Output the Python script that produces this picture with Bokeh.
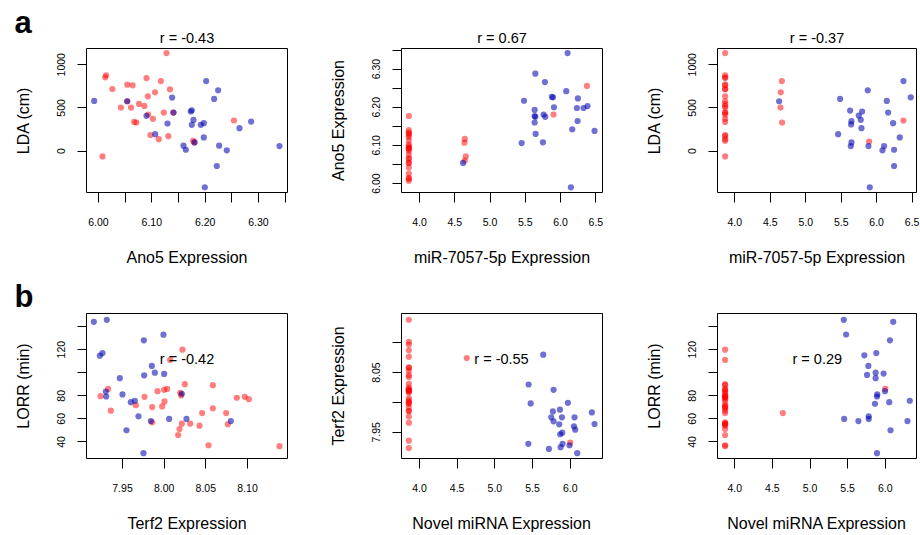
from bokeh.plotting import figure
from bokeh.layouts import column, row
from bokeh.models import Range1d, FixedTicker, PrintfTickFormatter, Title
from bokeh.core.properties import value
from bokeh.embed import file_html
from bokeh.resources import INLINE

FONT = "Liberation Sans"
RED = "#FF0000"
BLUE = "#0000B0"

# ---------------- panel a1: Ano5 vs LDA ----------------
a1_red_x = [6.1275, 6.0144, 6.0125, 6.026, 6.054, 6.064, 6.090, 6.117, 6.134, 6.106, 6.0925, 6.042, 6.061,
            6.076, 6.086, 6.093, 6.102, 6.1225, 6.067, 6.071, 6.0975, 6.113, 6.131, 6.1775, 6.254, 6.0075,
            6.054, 6.1406, 6.180]
a1_red_y = [1135, 877, 854, 719, 769, 761, 846, 811, 715, 681, 634, 504, 504,
            546, 523, 423, 373, 446, 338, 331, 185, 138, 173, 119, 354, -62,
            577, 446, 100]
a1_blue_x = [5.9919, 6.0538, 6.090, 6.1063, 6.1294, 6.1381, 6.1406, 6.1731, 6.175, 6.1781, 6.175, 6.1919,
             6.1975, 6.2019, 6.2169, 6.2244, 6.1975, 6.1594, 6.1638, 6.180, 6.2263, 6.2219, 6.2406, 6.1994,
             6.2644, 6.2863, 6.3394]
a1_blue_y = [581, 577, 408, 196, 319, 619, 446, 458, 473, 361, 304, 304,
             323, 811, 604, 704, 158, 62, 15, 100, 62, -173, 8, -419,
             265, 342, 58]

# ---------------- panel a2: miR-7057-5p vs Ano5 ----------------
a2_red_x = [3.849, 3.849, 3.849, 3.849, 3.849, 3.849, 3.849, 3.849, 3.849, 3.849, 3.849, 3.849,
            3.849, 3.849, 3.849, 3.849, 3.849, 3.849, 3.849, 3.849, 3.849, 3.849, 3.849,
            4.642, 4.637, 4.656, 4.642, 5.900, 6.373]
a2_red_y = [6.1275, 6.015, 6.0125, 6.026, 6.054, 6.064, 6.090, 6.134, 6.093, 6.042, 6.076, 6.086,
            6.093, 6.102, 6.1225, 6.067, 6.0975, 6.113, 6.131, 6.0075, 6.054, 6.140, 6.177,
            6.117, 6.107, 6.071, 6.060, 6.181, 6.256]
a2_blue_x = [4.618, 5.481, 5.642, 5.778, 5.448, 5.632, 5.632, 5.642, 5.632, 5.646, 5.759, 5.783, 5.750,
             5.877, 5.892, 5.906, 6.080, 6.099, 6.245, 6.231, 6.241, 6.325, 6.382, 6.165, 6.481, 6.146]
a2_blue_y = [6.054, 6.217, 6.288, 6.266, 6.106, 6.193, 6.177, 6.175, 6.160, 6.130, 6.181, 6.175, 6.108,
             6.227, 6.226, 6.200, 6.242, 6.342, 6.223, 6.198, 6.164, 6.198, 6.203, 6.142, 6.138, 5.990]

# ---------------- panel a3: miR-7057-5p vs LDA ----------------
a3_red_x = [3.864, 3.864, 3.864, 3.864, 3.864, 3.864, 3.864, 3.864, 3.864, 3.864, 3.864, 3.864,
            3.864, 3.864, 3.864, 3.864, 3.864, 3.864, 3.864, 3.864, 3.864, 3.864, 3.864,
            4.663, 4.648, 4.644, 4.667, 5.894, 6.378]
a3_red_y = [1135, 877, 854, 846, 769, 761, 719, 715, 634, 577, 546, 523,
            504, 446, 446, 423, 373, 338, 185, 173, 138, 119, -62,
            811, 681, 504, 331, 111, 354]
a3_blue_x = [4.625, 5.485, 5.457, 5.626, 5.645, 5.640, 5.645, 5.635, 5.748, 5.776, 5.795, 5.786, 5.875,
             5.884, 5.903, 6.082, 6.105, 6.143, 6.162, 6.232, 6.246, 6.246, 6.326, 6.378, 6.481]
a3_blue_y = [577, 604, 196, 469, 346, 308, 100, 58, 412, 362, 458, 265, 704,
             58, -419, 8, 58, 581, 446, 323, 15, -173, 158, 811, 623]

# ---------------- panel b1: Terf2 vs LORR ----------------
b1_red_x = [7.9236, 7.9328, 7.9360, 7.9660, 7.9764, 7.9856, 7.9856, 7.9920, 7.9976, 8.0004, 8.0000,
            8.0036, 8.0072, 8.0220, 8.0248, 8.0192, 8.0204, 8.0212, 8.0184, 8.0168, 8.0312, 8.0424,
            8.0456, 8.0532, 8.0584, 8.0584, 8.0744, 8.0764, 8.0872, 8.0968, 8.1016, 8.1384]
b1_red_y = [79.7, 86.0, 67.1, 71.9, 79.1, 70.2, 57.0, 84.0, 70.8, 75.1, 85.2,
            86.0, 111.1, 120.0, 90.1, 82.6, 80.3, 55.8, 51.2, 46.0, 55.8, 54.1,
            65.0, 37.1, 89.2, 69.1, 65.0, 55.3, 78.3, 79.1, 77.1, 36.3]
b1_blue_x = [7.9156, 7.9312, 7.9228, 7.9260, 7.9756, 7.9992, 7.9852, 7.9760, 7.9888, 8.0000, 7.9468, 7.9500,
             7.9300, 7.9304, 7.9600, 7.9648, 7.9692, 7.9840, 7.9548, 7.9752, 8.0212, 8.0060, 8.0268, 8.0800]
b1_blue_y = [144.2, 145.9, 114.8, 117.1, 128.1, 133.0, 105.9, 97.8, 100.1, 99.0, 95.3, 81.2,
             83.7, 79.4, 74.5, 75.7, 62.2, 58.1, 50.1, 30.2, 81.7, 59.9, 59.9, 58.1]

# ---------------- panel b2: Novel miRNA vs Terf2 ----------------
b2_red_x = [3.859, 3.859, 3.859, 3.859, 3.859, 3.859, 3.859, 3.859, 3.859, 3.859, 3.859, 3.859,
            3.859, 3.859, 3.859, 3.859, 3.859, 3.859, 3.859, 3.859, 3.859, 3.859, 3.859, 3.859,
            3.859, 3.859, 3.859, 3.859, 3.859, 3.859, 4.627, 6.000]
b2_red_y = [7.9236, 7.9360, 7.9660, 7.9764, 7.9856, 7.9856, 7.9920, 7.9976, 8.0004, 8.0000, 8.0036, 8.0072,
            8.0220, 8.0248, 8.0192, 8.0204, 8.0212, 8.0184, 8.0168, 8.0312, 8.0424, 8.0456, 8.0532, 8.0584,
            8.0584, 8.0764, 8.0872, 8.0968, 8.1016, 8.1384, 8.0744, 7.9328]
b2_blue_x = [5.642, 5.448, 5.779, 5.475, 5.969, 5.770, 5.863, 6.287, 5.748, 5.779, 5.890, 6.057,
             5.854, 6.049, 6.066, 6.322, 5.894, 5.867, 5.444, 5.717, 5.898, 5.872, 5.991, 6.093]
b2_blue_y = [8.0800, 8.0300, 8.0211, 7.9983, 7.9994, 7.9850, 7.9878, 7.9833, 7.9750, 7.9683, 7.9750, 7.9750,
             7.9633, 7.9600, 7.9544, 7.9639, 7.9494, 7.9467, 7.9306, 7.9222, 7.9306, 7.9250, 7.9283, 7.9150]

# ---------------- panel b3: Novel miRNA vs LORR ----------------
b3_red_x = [3.872, 3.872, 3.872, 3.872, 3.872, 3.872, 3.872, 3.872, 3.872, 3.872, 3.872, 3.872,
            3.872, 3.872, 3.872, 3.872, 3.872, 3.872, 3.872, 3.872, 3.872, 3.872, 3.872, 3.872,
            3.872, 3.872, 3.872, 3.872, 3.872, 3.872, 4.639, 6.000]
b3_red_y = [79.7, 67.1, 71.9, 79.1, 70.2, 57.0, 84.0, 70.8, 75.1, 85.2, 86.0, 111.1,
            120.0, 90.1, 82.6, 80.3, 55.8, 51.2, 46.0, 55.8, 54.1, 65.0, 37.1, 89.2,
            69.1, 55.3, 78.3, 79.1, 77.1, 36.3, 65.0, 86.0]
b3_blue_x = [5.449, 5.480, 6.106, 6.062, 5.722, 5.881, 5.775, 5.872, 5.978, 5.758, 5.872, 5.996,
             5.894, 5.890, 6.053, 6.326, 5.863, 5.780, 5.780, 5.454, 5.643, 6.295, 6.070, 5.890]
b3_blue_y = [145.9, 133.2, 144.2, 128.1, 115.1, 117.1, 105.9, 100.1, 99.3, 98.1, 95.3, 84.0,
             81.2, 79.4, 74.5, 75.7, 73.1, 62.2, 59.9, 59.9, 58.1, 58.1, 50.1, 30.2]

# ---------------- texts and axes ----------------
r_texts = ["r = -0.43", "r = 0.67", "r = -0.37", "r = -0.42", "r = -0.55", "r = 0.29"]
x_labels = ["Ano5 Expression", "miR-7057-5p Expression", "miR-7057-5p Expression",
            "Terf2 Expression", "Novel miRNA Expression", "Novel miRNA Expression"]
y_labels = ["LDA (cm)", "Ano5 Expression", "LDA (cm)",
            "LORR (min)", "Terf2 Expression", "LORR (min)"]
panel_letters = ["a", "b"]

ano5_ticks = [6.00, 6.10, 6.20, 6.30]
ano5_minor = [6.05, 6.15, 6.25, 6.35]
lda_ticks = [0, 500, 1000]
mir_ticks = [4.0, 4.5, 5.0, 5.5, 6.0, 6.5]
terf2_x_ticks = [7.95, 8.00, 8.05, 8.10]
terf2_y_ticks = [7.95, 8.05]
terf2_y_minor = [8.00, 8.10]
lorr_ticks = [40, 60, 80, 120]
lorr_minor = [100, 140]
nov_ticks = [4.0, 4.5, 5.0, 5.5, 6.0]

# b-row in-plot r label positions (data coords)
b_text_x = [8.0274, 5.088, 5.097]
b_text_y = [111.9, 8.0722, 111.7]

# ---------------- layout geometry ----------------
COLS = [dict(w=310, bl=86, br=23), dict(w=300, bl=91, br=8), dict(w=310, bl=107, br=4)]
ROWS = [dict(h=270, bt=48, bb=78), dict(h=265, bt=43, bb=77)]


def make_panel(ci, ri, xr, yr, xt, xminor, xfmt, yt, yminor, yfmt, idx, rx, ry, bx, by):
    c, r = COLS[ci], ROWS[ri]
    p = figure(width=c["w"], height=r["h"], x_range=Range1d(*xr), y_range=Range1d(*yr),
               output_backend="svg", toolbar_location=None, title_location=None,
               min_border_left=c["bl"], min_border_right=c["br"],
               min_border_top=r["bt"], min_border_bottom=r["bb"])
    p.xgrid.visible = False
    p.ygrid.visible = False
    p.outline_line_color = "black"
    p.outline_line_alpha = 1.0
    p.outline_line_width = 1
    p.background_fill_color = "white"
    p.border_fill_color = "white"

    for ax, ticks, minor, fmt, lab, tout, lstand, alstand in (
            (p.xaxis[0], xt, xminor, xfmt, x_labels[idx], 10, 15, 20),
            (p.yaxis[0], yt, yminor, yfmt, y_labels[idx], 9, 12, 23)):
        ax.ticker = FixedTicker(ticks=ticks, minor_ticks=minor)
        ax.formatter = PrintfTickFormatter(format=fmt)
        ax.axis_label = lab
        ax.axis_line_color = None
        ax.major_tick_out = tout
        ax.major_tick_in = 0
        ax.minor_tick_out = tout
        ax.minor_tick_in = 0
        ax.major_tick_line_color = "black"
        ax.minor_tick_line_color = "black"
        ax.major_label_text_font = FONT
        ax.major_label_text_font_size = "10.5px"
        ax.major_label_text_color = "black"
        ax.major_label_standoff = lstand
        ax.axis_label_text_font = FONT
        ax.axis_label_text_font_size = "16px"
        ax.axis_label_text_font_style = "normal"
        ax.axis_label_text_color = "black"
        ax.axis_label_standoff = alstand
    p.yaxis[0].major_label_orientation = "vertical"

    p.scatter(rx, ry, size=6.2, fill_color=RED, fill_alpha=0.5, line_color=None)
    p.scatter(bx, by, size=6.2, fill_color=BLUE, fill_alpha=0.56, line_color=None)

    if ri == 0:
        p.add_layout(Title(text=r_texts[idx], align="center", standoff=5,
                           text_font=FONT, text_font_size="14.5px", text_font_style="normal",
                           text_color="black"), "above")
    else:
        p.text(x=[b_text_x[ci]], y=[b_text_y[ci]], text=[r_texts[idx]],
               text_font=value(FONT), text_font_size=value("14.5px"),
               text_align="center", text_baseline="alphabetic", text_color="black")

    if ci == 0:
        letter = Title(text=panel_letters[ri], align="left", offset=-72, standoff=0,
                       text_font=FONT, text_font_size="31px", text_font_style="bold",
                       text_color="black")
        try:
            letter.standoff = -28 if ri == 0 else 0
        except Exception:
            pass
        p.add_layout(letter, "above")
    return p


pa1 = make_panel(0, 0, (5.9775, 6.3545), (-480, 1188), ano5_ticks, ano5_minor, "%.2f",
                 lda_ticks, [], "%d", 0, a1_red_x, a1_red_y, a1_blue_x, a1_blue_y)
pa2 = make_panel(1, 0, (3.745, 6.594), (5.9765, 6.354), mir_ticks, [], "%.1f",
                 ano5_ticks, ano5_minor, "%.2f", 1, a2_red_x, a2_red_y, a2_blue_x, a2_blue_y)
pa3 = make_panel(2, 0, (3.756, 6.562), (-480, 1188), mir_ticks, [], "%.1f",
                 lda_ticks, [], "%d", 2, a3_red_x, a3_red_y, a3_blue_x, a3_blue_y)
pb1 = make_panel(0, 1, (7.9068, 8.148), (25.6, 151.4), terf2_x_ticks, [], "%.2f",
                 lorr_ticks, lorr_minor, "%d", 3, b1_red_x, b1_red_y, b1_blue_x, b1_blue_y)
pb2 = make_panel(1, 1, (3.7616, 6.428), (7.9061, 8.1489), nov_ticks, [], "%.1f",
                 terf2_y_ticks, terf2_y_minor, "%.2f", 4, b2_red_x, b2_red_y, b2_blue_x, b2_blue_y)
pb3 = make_panel(2, 1, (3.771, 6.415), (25.6, 151.4), nov_ticks, [], "%.1f",
                 lorr_ticks, lorr_minor, "%d", 5, b3_red_x, b3_red_y, b3_blue_x, b3_blue_y)

layout = column(row(pa1, pa2, pa3), row(pb1, pb2, pb3))
open("out.html", "w").write(file_html(layout, INLINE))
